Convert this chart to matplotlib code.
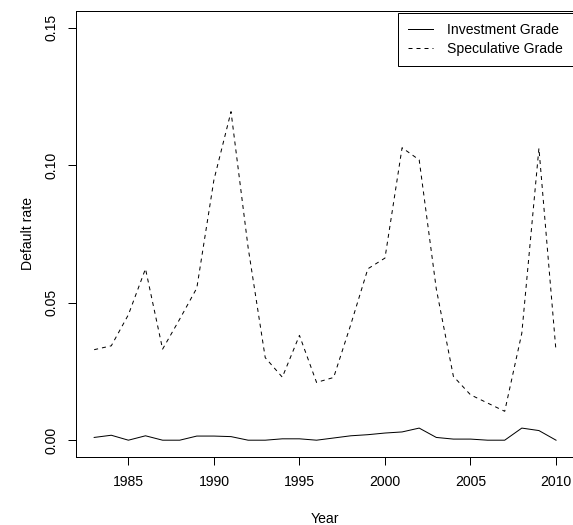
import matplotlib
matplotlib.use("Agg")
import matplotlib.pyplot as plt

plt.rcParams['font.family'] = ['Liberation Sans', 'DejaVu Sans']

# Annual default rates by rating class
years = list(range(1983, 2011))
investment_grade = [0.0010, 0.0018, 0.0000, 0.0016, 0.0000, 0.0000, 0.0015, 0.0015,
                    0.0013, 0.0000, 0.0000, 0.0005, 0.0005, 0.0000, 0.0008, 0.0016,
                    0.0020, 0.0026, 0.0030, 0.0044, 0.0010, 0.0004, 0.0004, 0.0000,
                    0.0000, 0.0044, 0.0035, 0.0000]
speculative_grade = [0.0329, 0.0343, 0.0456, 0.0623, 0.0331, 0.0440, 0.0553, 0.0946,
                     0.1194, 0.0700, 0.0300, 0.0229, 0.0381, 0.0210, 0.0228, 0.0420,
                     0.0623, 0.0662, 0.1063, 0.1019, 0.0550, 0.0232, 0.0165, 0.0135,
                     0.0105, 0.0389, 0.1061, 0.0323]
y_ticks = [0.00, 0.05, 0.10, 0.15]
y_tick_labels = ["0.00", "0.05", "0.10", "0.15"]
x_ticks = [1985, 1990, 1995, 2000, 2005, 2010]

W, H = 573, 525
fs = 10.1  # ~14 px
lw = 0.72

fig = plt.figure(figsize=(W / 100, H / 100), dpi=100)
ax = fig.add_axes([75.7 / W, 1 - 456.7 / H, (574.5 - 75.7) / W, (456.7 - 11) / H])

ax.plot(years, investment_grade, color='black', lw=lw, label='Investment Grade')
ax.plot(years, speculative_grade, color='black', lw=lw, linestyle=(0, (4, 4)),
        label='Speculative Grade')

# R-style 4% padding around the data range
ax.set_xlim(1983 - 0.04 * 27, 2010 + 0.04 * 27)
ax.set_ylim(-0.006, 0.156)

ax.set_xticks(x_ticks)
ax.set_xticklabels([str(x) for x in x_ticks], fontsize=fs)
ax.set_yticks(y_ticks)
ax.set_yticklabels(y_tick_labels, fontsize=fs, rotation=90, va='center')
ax.tick_params(axis='both', length=6.1, width=lw, color='black')
ax.tick_params(axis='x', pad=7.2)
ax.tick_params(axis='y', pad=6.5)

for s in ax.spines.values():
    s.set_linewidth(lw)
    s.set_color('black')
# the right edge of the box falls just past the canvas
ax.spines['right'].set_visible(False)

ax.set_xlabel('Year', fontsize=fs, labelpad=16.5)
ax.set_ylabel('Default rate', fontsize=fs, labelpad=6.5)

ax.legend(loc='upper right', bbox_to_anchor=(572.7 / W, 1 - 13.3 / H),
          bbox_transform=fig.transFigure, borderaxespad=0, fontsize=fs,
          frameon=True, fancybox=False, edgecolor='black', framealpha=1,
          handlelength=1.75, handletextpad=1.0, borderpad=0.72,
          labelspacing=0.3)
ax.get_legend().get_frame().set_linewidth(lw)

fig.savefig('out.png', dpi=100)
